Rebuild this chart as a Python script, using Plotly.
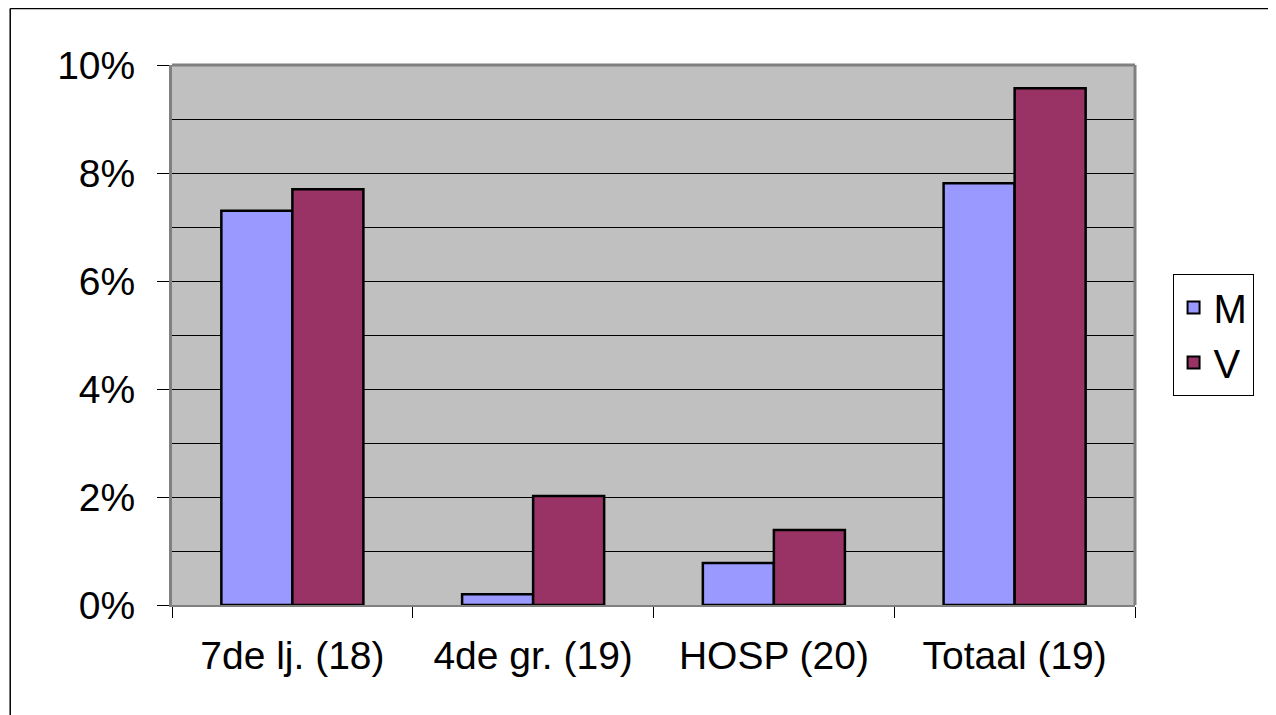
import plotly.graph_objects as go

categories = ["7de lj. (18)", "4de gr. (19)", "HOSP (20)", "Totaal (19)"]
m_values = [0.073, 0.002, 0.0078, 0.0781]
v_values = [0.077, 0.0202, 0.0139, 0.0957]
y_tickvals = [0, 0.02, 0.04, 0.06, 0.08, 0.10]
y_ticktext = ["0%", "2%", "4%", "6%", "8%", "10%"]

FONT = "Liberation Sans, Arial, sans-serif"

fig = go.Figure()
fig.add_trace(go.Bar(x=categories, y=m_values, name="M",
                     marker=dict(color="#9999FF", line=dict(color="black", width=2.5))))
fig.add_trace(go.Bar(x=categories, y=v_values, name="V",
                     marker=dict(color="#993366", line=dict(color="black", width=2.5))))

# page has an 8px body margin, so compensate
fig.update_layout(
    width=1276, height=715,
    margin=dict(l=164, r=149, t=57, b=118),
    paper_bgcolor="white",
    plot_bgcolor="#C0C0C0",
    barmode="group",
    bargap=0.41,
    bargroupgap=0,
    font=dict(family=FONT, size=39, color="black"),
    legend=dict(x=1.039, y=0.5, xanchor="left", yanchor="middle",
                bordercolor="black", borderwidth=1, bgcolor="white",
                font=dict(size=40), itemsizing="constant",
                tracegroupgap=14, itemwidth=30),
    showlegend=True,
)
fig.update_xaxes(
    showline=True, linecolor="#808080", linewidth=2,
    ticks="outside", tickson="boundaries", ticklen=11, tickcolor="black", tickwidth=1,
    showgrid=False, mirror=False,
    tickfont=dict(size=39),
    ticklabelstandoff=15,
)
fig.update_yaxes(
    range=[0, 0.10],
    tickvals=y_tickvals, ticktext=y_ticktext,
    showline=True, linecolor="#808080", linewidth=3,
    ticks="outside", ticklen=12, tickcolor="black", tickwidth=1,
    showgrid=True, gridcolor="black", gridwidth=1,
    minor=dict(dtick=0.01, tick0=0, showgrid=True, gridcolor="black", gridwidth=1, ticks=""),
    zeroline=False,
    tickfont=dict(size=39),
    ticklabelstandoff=14,
)
# plot area border (top & right, gray)
fig.add_shape(type="line", xref="paper", yref="paper", x0=0, x1=1, y0=1, y1=1,
              line=dict(color="#808080", width=3))
fig.add_shape(type="line", xref="paper", yref="paper", x0=1, x1=1, y0=0, y1=1,
              line=dict(color="#808080", width=3))
# outer chart border (top & left)
fig.add_shape(type="line", xref="paper", yref="paper", x0=-0.168, x1=1.3, y0=1.1046, y1=1.1046,
              line=dict(color="black", width=1.5))
fig.add_shape(type="line", xref="paper", yref="paper", x0=-0.168, x1=-0.168, y0=-0.4, y1=1.1046,
              line=dict(color="black", width=1.5))

fig.write_html("out.html")
